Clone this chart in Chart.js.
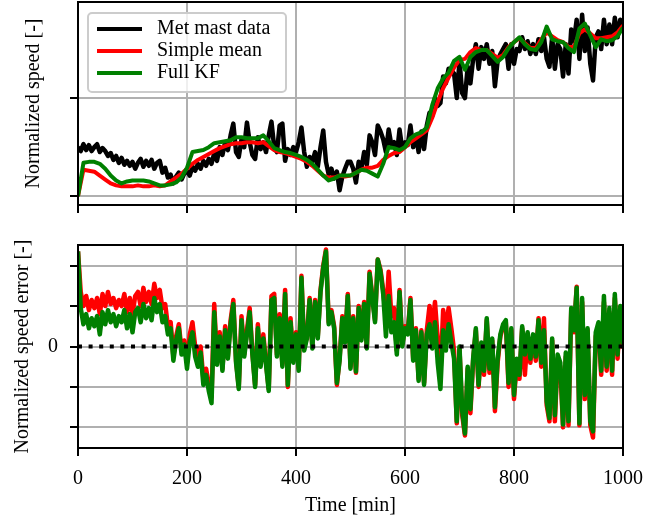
<!DOCTYPE html>
<html>
<head>
<meta charset="utf-8">
<script src="https://cdn.jsdelivr.net/npm/chart.js@4.4.1/dist/chart.umd.min.js"></script>
<style>
  body { margin: 0; background: #fff; }
  canvas { position: absolute; left: 0; }
  #speedChart { top: 0; }
  #errorChart { top: 230px; }
</style>
</head>
<body>
<canvas id="speedChart" width="660" height="230"></canvas>
<canvas id="errorChart" width="660" height="288"></canvas>
<script>
const seriesNames = ['Met mast data', 'Simple mean', 'Full KF'];
const xTicks = [0, 200, 400, 600, 800, 1000];
const speedTicks = [0, 1];
const errorTicks = [-2, -1, 0, 1, 2];
const fineStep = 5;    // minutes between samples
const coarseStep = 10;

// top panel, every 5 min
const metMast = [
  0.50, 0.46, 0.53, 0.47, 0.52, 0.46, 0.50, 0.53, 0.45, 0.49,
  0.46, 0.41, 0.44, 0.37, 0.41, 0.34, 0.39, 0.32, 0.36, 0.31,
  0.35, 0.28, 0.34, 0.38, 0.30, 0.36, 0.31, 0.37, 0.28, 0.34,
  0.36, 0.24, 0.29, 0.19, 0.22, 0.13, 0.20, 0.24, 0.17, 0.23,
  0.26, 0.21, 0.30, 0.26, 0.33, 0.28, 0.36, 0.31, 0.38, 0.33,
  0.44, 0.36, 0.50, 0.42, 0.55, 0.47, 0.62, 0.74, 0.45, 0.40,
  0.58, 0.50, 0.75, 0.55, 0.42, 0.38, 0.60, 0.48, 0.55, 0.45,
  0.62, 0.76, 0.50, 0.45, 0.72, 0.74, 0.36, 0.48, 0.42, 0.50,
  0.45, 0.55, 0.70, 0.45, 0.30, 0.40, 0.35, 0.45, 0.30, 0.50,
  0.67, 0.35, 0.22, 0.28, 0.18, 0.25, 0.06, 0.20, 0.28, 0.35,
  0.35, 0.28, 0.14, 0.35, 0.28, 0.45, 0.32, 0.62, 0.55, 0.42,
  0.72, 0.66, 0.58, 0.45, 0.68, 0.52, 0.55, 0.42, 0.68, 0.48,
  0.55, 0.52, 0.72, 0.50, 0.62, 0.45, 0.66, 0.48, 0.72, 0.85,
  0.82, 1.00, 0.92, 0.95, 1.22, 1.15, 1.30, 1.28, 1.25, 1.00,
  1.38, 1.05, 1.00, 1.32, 1.15, 1.40, 1.55, 1.30, 1.52, 1.40,
  1.55, 1.35, 1.48, 1.12, 1.38, 1.45, 1.50, 1.55, 1.30, 1.55,
  1.35, 1.50, 1.48, 1.62, 1.50, 1.58, 1.45, 1.55, 1.45, 1.60,
  1.48, 1.62, 1.40, 1.32, 1.62, 1.30, 1.55, 1.50, 1.22, 1.55,
  1.25, 1.70, 1.58, 1.80, 1.40, 1.85, 1.48, 1.72, 1.35, 1.18,
  1.62, 1.68, 1.50, 1.80, 1.55, 1.75, 1.55, 1.82, 1.62, 1.80,
  1.72
];

// top panel, every 10 min
const simpleMean = [
  0.00, 0.27, 0.26, 0.25, 0.21, 0.17, 0.13, 0.11, 0.10, 0.10,
  0.10, 0.11, 0.10, 0.10, 0.11, 0.10, 0.11, 0.15, 0.19, 0.23,
  0.28, 0.33, 0.37, 0.40, 0.43, 0.46, 0.49, 0.51, 0.53, 0.54,
  0.54, 0.55, 0.55, 0.54, 0.55, 0.51, 0.47, 0.45, 0.44, 0.42,
  0.40, 0.38, 0.35, 0.31, 0.26, 0.21, 0.19, 0.19, 0.21, 0.20,
  0.21, 0.24, 0.27, 0.29, 0.29, 0.31, 0.37, 0.41, 0.44, 0.45,
  0.50, 0.55, 0.59, 0.63, 0.67, 0.80, 0.96, 1.10, 1.21, 1.31,
  1.39, 1.40, 1.47, 1.51, 1.49, 1.49, 1.45, 1.41, 1.44, 1.52,
  1.57, 1.61, 1.56, 1.51, 1.51, 1.60, 1.67, 1.63, 1.59, 1.57,
  1.52, 1.52, 1.66, 1.70, 1.66, 1.61, 1.61, 1.62, 1.63, 1.67,
  1.74
];
const fullKF = [
  0.00, 0.34, 0.35, 0.35, 0.33, 0.28, 0.21, 0.16, 0.13, 0.15,
  0.16, 0.16, 0.16, 0.15, 0.13, 0.11, 0.11, 0.12, 0.14, 0.19,
  0.29, 0.45, 0.46, 0.47, 0.50, 0.54, 0.55, 0.56, 0.57, 0.60,
  0.60, 0.59, 0.59, 0.59, 0.62, 0.56, 0.49, 0.47, 0.45, 0.44,
  0.42, 0.40, 0.37, 0.33, 0.27, 0.21, 0.16, 0.18, 0.21, 0.21,
  0.21, 0.24, 0.27, 0.26, 0.23, 0.20, 0.33, 0.50, 0.49, 0.47,
  0.50, 0.59, 0.63, 0.65, 0.70, 0.93, 1.10, 1.20, 1.26, 1.38,
  1.42, 1.29, 1.42, 1.47, 1.49, 1.49, 1.43, 1.37, 1.42, 1.51,
  1.57, 1.62, 1.55, 1.50, 1.49, 1.57, 1.73, 1.60, 1.58, 1.57,
  1.51, 1.47, 1.71, 1.76, 1.64, 1.52, 1.60, 1.58, 1.59, 1.63,
  1.72
];

// bottom panel, every 5 min
const errSimpleMean = [
  2.35, 1.35, 1.00, 1.25, 0.90, 1.15, 0.95, 1.20, 0.80, 1.30,
  1.00, 1.35, 1.05, 1.20, 0.95, 1.15, 1.00, 1.30, 0.85, 1.20,
  0.80, 1.25, 1.35, 1.00, 1.45, 1.10, 1.35, 1.05, 1.55, 1.20,
  1.40, 0.95, 1.05, 0.50, 0.60, -0.25, 0.25, 0.55, -0.10, 0.15,
  -0.40, 0.30, 0.60, 0.00, -0.35, 0.00, -0.80, -0.55, -0.95, -1.25,
  1.05, -0.40, 0.35, -0.55, 0.50, -0.25, 0.65, 1.15, -0.35, -1.00,
  0.75, -0.20, 0.40, 0.95, -0.15, -0.95, 0.55, -0.45, 0.30, -0.40,
  -1.05, 1.25, 1.30, -0.20, 0.80, -0.45, 1.40, -1.00, 0.70, -0.35,
  0.35, -0.55, 1.75, -0.05, 0.25, 1.20, 0.00, 1.15, 0.25, 1.40,
  2.00, 2.40, 0.60, 0.90, 0.50, -0.95, -0.30, 0.75, 0.15, 1.30,
  -0.50, 0.75, -0.65, 1.00, 0.20, 1.10, 0.00, 1.85, 1.25, 0.65,
  2.15, 1.90, 1.40, 0.65, 1.85, 0.75, 0.95, -0.10, 1.40, 0.05,
  0.50, 0.35, 1.20, -0.30, 0.45, -0.80, 0.40, -0.90, 0.40, 1.00,
  0.45, 1.10, 0.20, -0.70, 0.90, 0.40, 0.95, 0.45, -0.10, -1.90,
  -0.05, -1.70, -2.20, -0.55, -1.65, -0.35, 0.40, -1.00, 0.05, -0.70,
  0.65, -0.65, 0.15, -1.60, -0.40, 0.25, 0.50, 0.60, -1.00, 0.40,
  -1.30, -0.40, -0.80, 0.45, -0.70, 0.30, -0.40, 0.25, -0.35, 0.70,
  -0.50, 0.70, -1.45, -1.85, 0.15, -1.85, -0.30, -0.50, -2.00, -0.25,
  -1.95, 0.90, 0.35, 1.48, -1.95, 1.10, -1.30, 0.40, -1.95, -2.25,
  0.25, 0.50, -0.70, 1.10, -0.60, 0.85, -0.70, 1.20, -0.30, 0.90,
  -0.05
];
const errFullKF = [
  2.35, 0.95, 0.55, 0.80, 0.45, 0.70, 0.50, 0.75, 0.30, 0.85,
  0.55, 0.90, 0.60, 0.80, 0.50, 0.75, 0.60, 0.90, 0.45, 0.80,
  0.35, 0.85, 0.95, 0.60, 1.05, 0.70, 0.95, 0.65, 1.20, 0.85,
  1.05, 0.60, 0.75, 0.30, 0.45, -0.35, 0.15, 0.45, -0.20, 0.05,
  -0.55, 0.10, 0.35, -0.25, -0.50, -0.15, -0.95, -0.70, -1.10, -1.40,
  0.85, -0.45, 0.25, -0.60, 0.40, -0.30, 0.55, 1.05, -0.40, -1.05,
  0.65, -0.25, 0.30, 0.85, -0.20, -1.00, 0.45, -0.50, 0.20, -0.45,
  -1.10, 1.15, 1.20, -0.25, 0.70, -0.50, 1.30, -0.95, 0.60, -0.40,
  0.30, -0.60, 1.70, -0.10, 0.20, 1.15, -0.05, 1.10, 0.20, 1.35,
  1.95, 2.35, 0.55, 0.85, 0.45, -0.90, -0.35, 0.70, 0.10, 1.25,
  -0.55, 0.70, -0.62, 0.95, 0.15, 1.05, -0.05, 1.80, 1.20, 0.60,
  2.15, 1.85, 1.30, 0.25, 1.25, 0.35, 0.60, -0.20, 1.35, 0.00,
  0.45, 0.30, 1.15, -0.35, 0.40, -0.85, 0.35, -0.95, 0.30, 0.55,
  -0.05, 0.60, -0.40, -1.05, 0.40, -0.10, 0.55, 0.10, -0.30, -1.85,
  0.00, -1.60, -2.15, -0.50, -1.55, -0.30, 0.45, -0.95, 0.10, -0.60,
  0.70, -0.55, 0.20, -1.50, -0.30, 0.30, 0.55, 0.65, -0.90, 0.45,
  -1.20, -0.30, -0.70, 0.50, -0.20, 0.35, -0.30, 0.30, -0.25, 0.65,
  -0.40, 0.40, -1.36, -1.77, 0.20, -1.70, -0.20, -0.40, -1.93, -0.15,
  -1.85, 0.95, 0.40, 1.45, -1.90, 1.20, -1.20, 0.45, -1.85, -2.10,
  0.35, 0.60, -0.60, 1.25, -0.50, 0.95, -0.60, 1.30, -0.20, 1.00,
  0.05
];
const zeroTimes = [0, 1000];
const zeroLine = [0, 0];

const toPoints = (vals, step) => vals.map((v, i) => ({x: i * step, y: v}));

Chart.defaults.font.family = '"Liberation Serif", "Times New Roman", serif';
Chart.defaults.font.size = 20;
Chart.defaults.color = '#000';

const gridStyle = {color: '#b0b0b0', lineWidth: 2, tickColor: '#000', tickWidth: 2, tickLength: 8};
const borderStyle = {color: '#000', width: 2};

// no extra room for label overhang, the layout padding sets the box
function noOverhang(s) {
  s.paddingTop = 0; s.paddingBottom = 0; s.paddingLeft = 0; s.paddingRight = 0;
}

function timeAxis(showLabels, height) {
  return {
    type: 'linear', min: 0, max: 1000,
    afterBuildTicks: s => { s.ticks = xTicks.map(v => ({value: v})); },
    afterFit: s => { s.height = height; noOverhang(s); },
    grid: gridStyle,
    border: borderStyle,
    ticks: {display: showLabels, padding: 11, maxRotation: 0, callback: v => String(v)},
    title: {display: showLabels, text: 'Time [min]', padding: {top: 0, bottom: 0}}
  };
}

// closes the box on the top and right
const framePlugin = {
  id: 'frame',
  afterDatasetsDraw(chart) {
    const {ctx, chartArea: a} = chart;
    ctx.save();
    ctx.strokeStyle = '#000';
    ctx.lineWidth = 2;
    ctx.strokeRect(a.left, a.top, a.right - a.left, a.bottom - a.top);
    ctx.restore();
  }
};

// matplotlib-like legend inside the axes
const boxLegend = {
  id: 'boxLegend',
  afterDraw(chart) {
    const {ctx, chartArea: a} = chart;
    const x0 = a.left + 10, y0 = a.top + 11;
    ctx.save();
    ctx.fillStyle = 'rgba(255,255,255,0.8)';
    ctx.strokeStyle = '#cccccc';
    ctx.lineWidth = 2;
    ctx.beginPath();
    ctx.roundRect(x0, y0, 198, 79, 4);
    ctx.fill();
    ctx.stroke();
    ctx.font = '20px "Liberation Serif", "Times New Roman", serif';
    ctx.textBaseline = 'middle';
    chart.data.datasets.forEach((ds, i) => {
      const y = y0 + 16 + i * 22;
      ctx.strokeStyle = ds.borderColor;
      ctx.lineWidth = 4;
      ctx.beginPath();
      ctx.moveTo(x0 + 9, y);
      ctx.lineTo(x0 + 54, y);
      ctx.stroke();
      ctx.fillStyle = '#000';
      ctx.fillText(ds.label, x0 + 69, y);
    });
    ctx.restore();
  }
};

const lineStyle = {pointRadius: 0, borderWidth: 4, tension: 0, borderJoinStyle: 'round', fill: false};

new Chart(document.getElementById('speedChart'), {
  type: 'line',
  data: {
    datasets: [
      {label: seriesNames[0], data: toPoints(metMast, fineStep), borderColor: '#000000', order: 3, ...lineStyle, borderWidth: 4.5},
      {label: seriesNames[1], data: toPoints(simpleMean, coarseStep), borderColor: '#ff0000', order: 2, ...lineStyle},
      {label: seriesNames[2], data: toPoints(fullKF, coarseStep), borderColor: '#008000', order: 1, ...lineStyle}
    ]
  },
  options: {
    responsive: false,
    animation: false,
    events: [],
    layout: {padding: {top: 2, right: 37, left: 0, bottom: 0}},
    plugins: {legend: {display: false}, tooltip: {enabled: false}},
    scales: {
      x: timeAxis(false, 25),
      y: {
        min: -0.09, max: 1.98,
        afterBuildTicks: s => { s.ticks = speedTicks.map(v => ({value: v})); },
        afterFit: s => { s.width = 78; noOverhang(s); },
        grid: gridStyle,
        border: borderStyle,
        ticks: {callback: () => '', padding: 12},
        title: {display: true, text: 'Normalized speed [-]', padding: {top: 22, bottom: 0}}
      }
    }
  },
  plugins: [framePlugin, boxLegend]
});

new Chart(document.getElementById('errorChart'), {
  type: 'line',
  data: {
    datasets: [
      {label: 'zero', data: zeroTimes.map((t, i) => ({x: t, y: zeroLine[i]})), borderColor: '#000000',
       borderWidth: 4, borderDash: [4, 6.6], borderCapStyle: 'butt', pointRadius: 0, order: 0},
      {label: seriesNames[1], data: toPoints(errSimpleMean, fineStep), borderColor: '#ff0000', order: 2, ...lineStyle, borderWidth: 4.5},
      {label: seriesNames[2], data: toPoints(errFullKF, fineStep), borderColor: '#008000', order: 1, ...lineStyle, borderWidth: 4.5}
    ]
  },
  options: {
    responsive: false,
    animation: false,
    events: [],
    layout: {padding: {top: 15, right: 37, left: 0, bottom: 0}},
    plugins: {legend: {display: false}, tooltip: {enabled: false}},
    scales: {
      x: timeAxis(true, 70),
      y: {
        min: -2.51, max: 2.51,
        afterBuildTicks: s => { s.ticks = errorTicks.map(v => ({value: v})); },
        afterFit: s => { s.width = 78; noOverhang(s); },
        grid: gridStyle,
        border: borderStyle,
        ticks: {callback: v => (v === 0 ? '0' : ''), padding: 12},
        title: {display: true, text: 'Normalized speed error [-]', padding: {top: 11, bottom: 0}}
      }
    }
  },
  plugins: [framePlugin]
});
</script>
</body>
</html>
